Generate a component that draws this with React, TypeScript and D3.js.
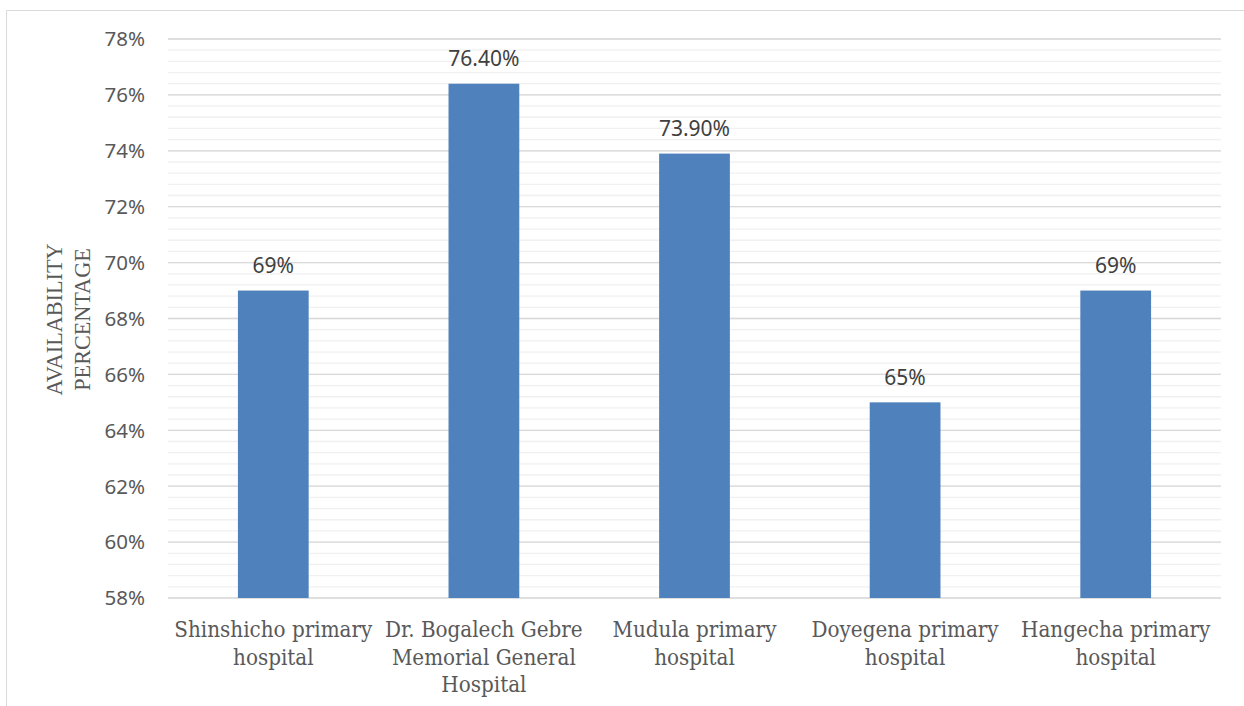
import React from "react";
import * as d3 from "d3";

const categories: string[][] = [
  ["Shinshicho primary", "hospital"],
  ["Dr. Bogalech Gebre", "Memorial General", "Hospital"],
  ["Mudula primary", "hospital"],
  ["Doyegena primary", "hospital"],
  ["Hangecha primary", "hospital"],
];
const values: number[] = [69, 76.4, 73.9, 65, 69];
const valueLabels: string[] = ["69%", "76.40%", "73.90%", "65%", "69%"];
const majorTicks: number[] = [58, 60, 62, 64, 66, 68, 70, 72, 74, 76, 78];
const yTitle: string[] = ["AVAILABILITY", "PERCENTAGE"];

const W = 1244;
const H = 706;
const left = 168;
const right = 1221;
const top = 39;
const bottom = 598;

export default function App() {
  const x = d3
    .scaleBand<number>()
    .domain(d3.range(values.length))
    .range([left, right])
    .paddingInner(0.664)
    .paddingOuter(0.332);
  const y = d3.scaleLinear().domain([58, 78]).range([bottom, top]);
  const minor = d3.range(58, 78.001, 0.4);
  const band = (right - left) / values.length;

  return (
    <svg
      width={W}
      height={H}
      style={{ position: "absolute", left: 0, top: 0, display: "block" }}
    >
      <rect x={0} y={0} width={W} height={H} fill="#fff" />
      <line x1={6.5} y1={10.5} x2={W} y2={10.5} stroke="#d9d9d9" strokeWidth={1} />
      <line x1={6.5} y1={10.5} x2={6.5} y2={H} stroke="#d9d9d9" strokeWidth={1} />
      {minor.map((v, i) => (
        <line
          key={"m" + i}
          x1={left}
          x2={right}
          y1={y(v)}
          y2={y(v)}
          stroke="#f0f0f0"
          strokeWidth={1.3}
        />
      ))}
      {majorTicks.map((v) => (
        <line
          key={"g" + v}
          x1={left}
          x2={right}
          y1={y(v)}
          y2={y(v)}
          stroke="#d9d9d9"
          strokeWidth={1.3}
        />
      ))}
      {majorTicks.map((v) => (
        <text
          key={"t" + v}
          x={145}
          y={y(v)}
          dy="0.36em"
          textAnchor="end"
          fontFamily="'Noto Sans', 'Open Sans', sans-serif"
          fontSize={20.5}
          fill="#595959"
        >
          {v + "%"}
        </text>
      ))}
      {values.map((v, i) => (
        <rect
          key={"b" + i}
          x={x(i)}
          y={y(v)}
          width={x.bandwidth()}
          height={bottom - y(v)}
          fill="#4f81bd"
        />
      ))}
      {values.map((v, i) => (
        <text
          key={"l" + i}
          x={(x(i) as number) + x.bandwidth() / 2}
          y={y(v) - 17.5}
          textAnchor="middle"
          fontFamily="'Noto Sans', 'Open Sans', sans-serif"
          fontSize={21}
          fill="#404040"
        >
          {valueLabels[i]}
        </text>
      ))}
      {categories.map((lines, i) => (
        <text
          key={"c" + i}
          textAnchor="middle"
          fontFamily="'DejaVu Serif Condensed', 'Liberation Serif', serif"
          fontSize={22.2}
          fill="#595959"
        >
          {lines.map((ln, j) => (
            <tspan key={j} x={left + band * (i + 0.5)} y={637 + j * 27.7}>
              {ln}
            </tspan>
          ))}
        </text>
      ))}
      <text
        transform={`translate(0, ${(top + bottom) / 2 + 1}) rotate(-90)`}
        textAnchor="middle"
        fontFamily="'Liberation Serif', serif"
        fontSize={22.2}
        fill="#595959"
      >
        {yTitle.map((t, j) => (
          <tspan key={j} x={0} y={62 + j * 28}>
            {t}
          </tspan>
        ))}
      </text>
    </svg>
  );
}
